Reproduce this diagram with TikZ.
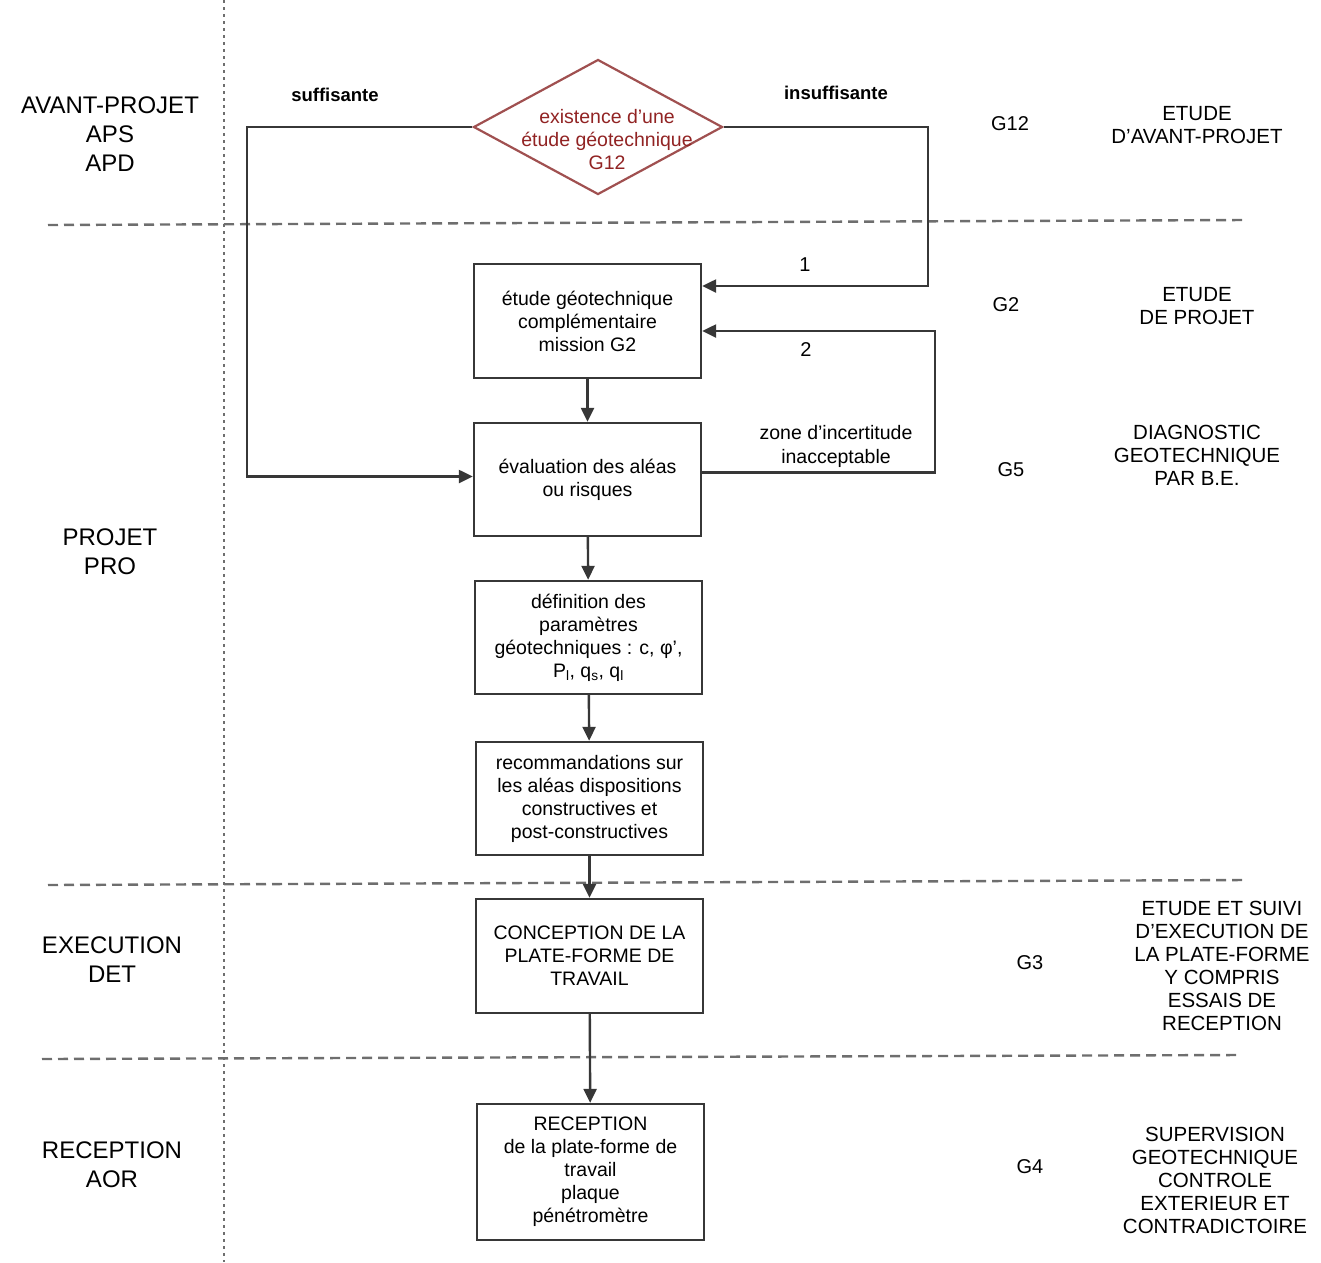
\documentclass[tikz,border=0pt]{standalone}
\usepackage{fontspec}
\setmainfont{Liberation Sans}
\usetikzlibrary{shapes.geometric,arrows.meta}
\definecolor{ln}{RGB}{55,55,55}
\definecolor{sep}{RGB}{110,110,110}
\definecolor{dred}{RGB}{145,35,35}
\definecolor{dborder}{RGB}{160,80,80}
\tikzset{
  box/.style={draw=ln, line width=2.4pt, minimum width=227pt, align=center, inner sep=2pt,
    font=\fontsize{19.5}{23}\selectfont},
  arr/.style={draw=ln, line width=2.4pt, -{Triangle[length=14pt,width=13pt]}},
  sepline/.style={draw=sep, line width=2.4pt, dash pattern=on 10pt off 6pt},
  vsep/.style={draw=sep, line width=2.2pt, dash pattern=on 3pt off 4pt},
  phase/.style={align=center, font=\fontsize{24}{29}\selectfont},
  mis/.style={align=center, font=\fontsize{20.5}{23}\selectfont},
  gcode/.style={font=\fontsize{20}{23}\selectfont},
  tag/.style={font=\bfseries\fontsize{18.5}{20}\selectfont},
  lbl/.style={align=center, font=\fontsize{19.5}{24}\selectfont},
  dia/.style={diamond, draw=dborder, line width=2.2pt, inner sep=0pt, minimum width=249pt, minimum height=135pt}
}
\begin{document}
\begin{tikzpicture}[x=1pt,y=-1pt]
\useasboundingbox (0,0) rectangle (1321,1262);
% separators
\coordinate (vt) at (224,0);
\coordinate (vb) at (224,1262);
\draw[vsep] (vt) -- (vb);
\coordinate (s1a) at (48,225); \coordinate (s1b) at (1245,220);
\coordinate (s2a) at (48,885); \coordinate (s2b) at (1245,880);
\coordinate (s3a) at (42,1059); \coordinate (s3b) at (1238,1055);
\draw[sepline] (s1a) -- (s1b);
\draw[sepline] (s2a) -- (s2b);
\draw[sepline] (s3a) -- (s3b);
% phases
\node[phase] (p1) at (110,134) {AVANT-PROJET\\APS\\APD};
\node[phase] (p2) at (110,552) {PROJET\\PRO};
\node[phase] (p3) at (112,960) {EXECUTION\\DET};
\node[phase] (p4) at (112,1165) {RECEPTION\\AOR};
% diamond
\node[dia] (q) at (598,127) {};
\node[align=center, text=dred, font=\fontsize{19.5}{23}\selectfont] (qt) at (607,140) {existence d'une\\étude géotechnique\\G12};
% boxes
\node[box, minimum height=114pt] (b1) at (587.5,321) {étude géotechnique\\complémentaire\\mission G2};
\node[box, minimum height=113pt] (b2) at (587.5,479.5) {évaluation des aléas\\ou risques};
\node[box, minimum height=113pt] (b3) at (588.5,637.5) {définition des\\paramètres\\géotechniques : c, φ',\\P\textsubscript{l}, q\textsubscript{s}, q\textsubscript{l}};
\node[box, minimum height=113pt] (b4) at (589.5,798.5) {recommandations sur\\les aléas dispositions\\constructives et\\post-constructives};
\node[box, minimum height=114pt] (b5) at (589.5,956) {CONCEPTION DE LA\\PLATE-FORME DE\\TRAVAIL};
\node[box, minimum height=136pt] (b6) at (590.5,1172) {RECEPTION\\de la plate-forme de\\travail\\plaque\\pénétromètre};
% vertical arrows
\draw[arr] (b1) -- (b2);
\draw[arr] (b2) -- (b3);
\draw[arr] (b3) -- (b4);
\draw[arr] (b4) -- (b5);
\draw[arr] (b5) -- (b6);
% side connectors
\coordinate (cl) at (247,127);
\coordinate (cr) at (928,127);
\coordinate (cz) at (935,472.5);
\draw[arr] (q.west) -- (cl) |- ([yshift=3pt]b2.west);
\draw[arr] (q.east) -- (cr) |- ([yshift=35pt]b1.east);
\draw[arr] ([yshift=7pt]b2.east) -- (cz) |- ([yshift=-10pt]b1.east);
% tags
\node[tag] (t1) at (335,95) {suffisante};
\node[tag] (t2) at (836,93) {insuffisante};
\node[gcode] (n1) at (805,265) {1};
\node[gcode] (n2) at (806,350) {2};
\node[lbl] (zi) at (836,446) {zone d'incertitude\\inacceptable};
% missions
\node[gcode] (g1) at (1010,124) {G12};
\node[mis] (m1) at (1197,125) {ETUDE\\D'AVANT-PROJET};
\node[gcode] (g2) at (1006,305) {G2};
\node[mis] (m2) at (1197,306) {ETUDE\\DE PROJET};
\node[gcode] (g5) at (1011,470) {G5};
\node[mis] (m5) at (1197,455) {DIAGNOSTIC\\GEOTECHNIQUE\\PAR B.E.};
\node[gcode] (g3) at (1030,963) {G3};
\node[mis] (m3) at (1222,966) {ETUDE ET SUIVI\\D'EXECUTION DE\\LA PLATE-FORME\\Y COMPRIS\\ESSAIS DE\\RECEPTION};
\node[gcode] (g4) at (1030,1167) {G4};
\node[mis] (m4) at (1215,1180) {SUPERVISION\\GEOTECHNIQUE\\CONTROLE\\EXTERIEUR ET\\CONTRADICTOIRE};
\end{tikzpicture}
\end{document}
